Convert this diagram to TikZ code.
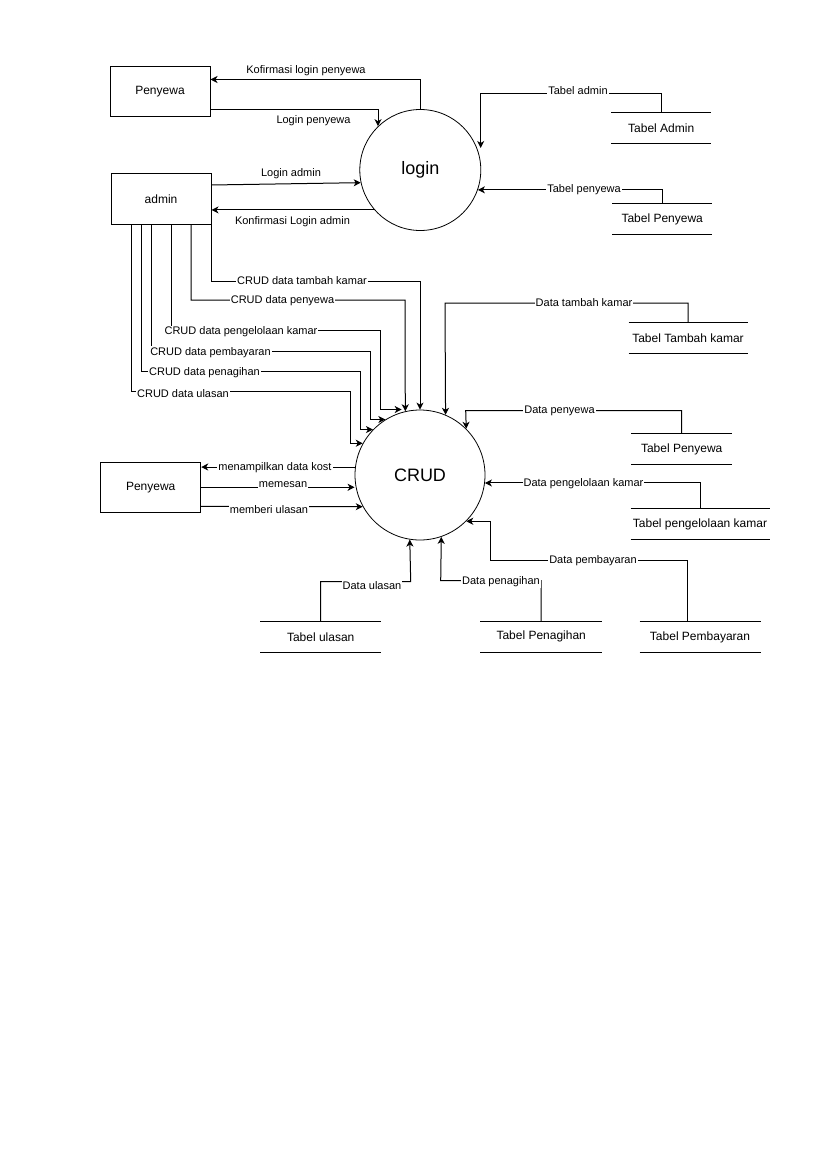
\documentclass[tikz,border=0pt]{standalone}
\usepackage{fontspec}
\setmainfont{Liberation Sans}
\usetikzlibrary{arrows.meta}

\begin{document}
\begin{tikzpicture}[x=1pt, y=-1pt, line width=1pt, >={Stealth[length=7pt,width=7pt,inset=2pt]},
	entity/.style={draw, minimum width=100pt, minimum height=50pt, inner sep=0pt, font=\fontsize{12}{14}\selectfont},
	proc/.style={draw, circle, inner sep=0pt, line width=0.8pt, font=\fontsize{18}{21}\selectfont},
	store/.style={minimum height=30pt, inner sep=0pt, font=\fontsize{12}{14}\selectfont,
		append after command={(\tikzlastnode.north west) edge[-] (\tikzlastnode.north east)
			(\tikzlastnode.south west) edge[-] (\tikzlastnode.south east)}},
	flow/.style={->},
	lbl/.style={fill=white, inner sep=1pt, font=\fontsize{11}{13}\selectfont}]
	\useasboundingbox (0,0) rectangle (827,1169);

	\node[entity] (py1) at (160,91.5) {Penyewa};
	\node[entity] (adm) at (161,199) {admin};
	\node[entity] (py2) at (150.7,487.3) {Penyewa};
	\node[proc, minimum size=121pt] (login) at (420.3,170) {login};
	\node[proc, minimum size=130pt] (crud) at (420,475) {CRUD};

	\node[store, minimum width=99pt] (tadm) at (661.2,128) {Tabel Admin};
	\node[store, minimum width=99pt] (tpy1) at (662.2,219) {Tabel Penyewa};
	\node[store, minimum width=118pt] (ttk) at (688,338) {Tabel Tambah kamar};
	\node[store, minimum width=100pt] (tpy2) at (681.7,449) {Tabel Penyewa};
	\node[store, minimum width=138pt] (tpk) at (700,524.2) {Tabel pengelolaan kamar};
	\node[store, minimum width=120pt] (tpb) at (700,637.3) {Tabel Pembayaran};
	\node[store, minimum width=121pt] (tpg) at (541.2,636.7) {Tabel Penagihan};
	\node[store, minimum width=120pt] (tul) at (320.7,637) {Tabel ulasan};

	\coordinate (ladm) at (480.7,148);
	\coordinate (pk) at (401.7,409.5);

	% login
	\draw[flow] (login.north) |- ([yshift=12pt]py1.east)
		node[lbl] (lkpy) at (306,70.5) {Kofirmasi login penyewa};
	\draw[flow] ([yshift=-18.5pt]py1.east) -| (login.134.4)
		node[lbl] (llpy) at (313.5,121) {Login penyewa};
	\draw[flow] ([yshift=14pt]adm.east) -- (login.192.5)
		node[lbl] (llad) at (291,174) {Login admin};
	\draw[flow] (login.221.8) -- (login.221.8 -| adm.east)
		node[lbl] (lkad) at (292.5,222) {Konfirmasi Login admin};
	\draw[flow] (tadm.north) |- (480.7,94) -- (ladm)
		node[lbl] (ltad) at (578,90.5) {Tabel admin};
	\draw[flow] (tpy1.north) |- (login.-19.5)
		node[lbl] (ltpy) at (584,190) {Tabel penyewa};

	% admin ke CRUD
	\draw[flow] (adm.south east) |- (420,281) -- (crud.north)
		node[lbl] (lc1) at (302,281) {CRUD data tambah kamar};
	\draw[flow] ([xshift=-20.3pt]adm.south east) |- (405,300) -- (crud.103.35)
		node[lbl] (lc2) at (282.5,300.5) {CRUD data penyewa};
	\draw[flow] ([xshift=-40.3pt]adm.south east) |- (380,330.7) |- (pk)
		node[lbl] (lc3) at (241,332) {CRUD data pengelolaan kamar};
	\draw[flow] ([xshift=-60.3pt]adm.south east) |- (370,351) |- (crud.122.2)
		node[lbl] (lc4) at (210.5,352.3) {CRUD data pembayaran};
	\draw[flow] ([xshift=-70.3pt]adm.south east) |- (360,371) |- (crud.136.2)
		node[lbl] (lc5) at (204.5,373) {CRUD data penagihan};
	\draw[flow] ([xshift=-80.3pt]adm.south east) |- (350,391) |- (crud.151.5)
		node[lbl] (lc6) at (183,394) {CRUD data ulasan};

	% tabel ke CRUD
	\draw[flow] (ttk.north) |- (445,303) -- (crud.67.4)
		node[lbl] (ld1) at (584,302.5) {Data tambah kamar};
	\draw[flow] (tpy2.north) |- (465.7,410.7) -- (crud.45.3)
		node[lbl] (ld2) at (559.5,410.5) {Data penyewa};
	\draw[flow] (tpk.north) |- (crud.-7.3)
		node[lbl] (ld3) at (583.5,483.3) {Data pengelolaan kamar};
	\draw[flow] ([xshift=-12.3pt]tpb.north) |- (490,560) |- (crud.-45.9)
		node[lbl] (ld4) at (593,560.5) {Data pembayaran};
	\draw[flow] (tpg.north) |- (440.7,580.7) -- (crud.-71.4)
		node[lbl] (ld5) at (501,582) {Data penagihan};
	\draw[flow] (tul.north) |- (410.7,581.7) -- (crud.261.8)
		node[lbl] (ld6) at (372,585.5) {Data ulasan};

	% penyewa dan CRUD
	\draw[flow] (crud.173.5) -- (crud.173.5 -| py2.east)
		node[lbl] (lp1) at (275,467.5) {menampilkan data kost};
	\draw[flow] (py2.east) -- (py2.east -| crud.west)
		node[lbl] (lp2) at (283,485) {memesan};
	\draw[flow] ([yshift=-19pt]py2.east) -- (crud.209)
		node[lbl] (lp3) at (269,510) {memberi ulasan};
\end{tikzpicture}
\end{document}
